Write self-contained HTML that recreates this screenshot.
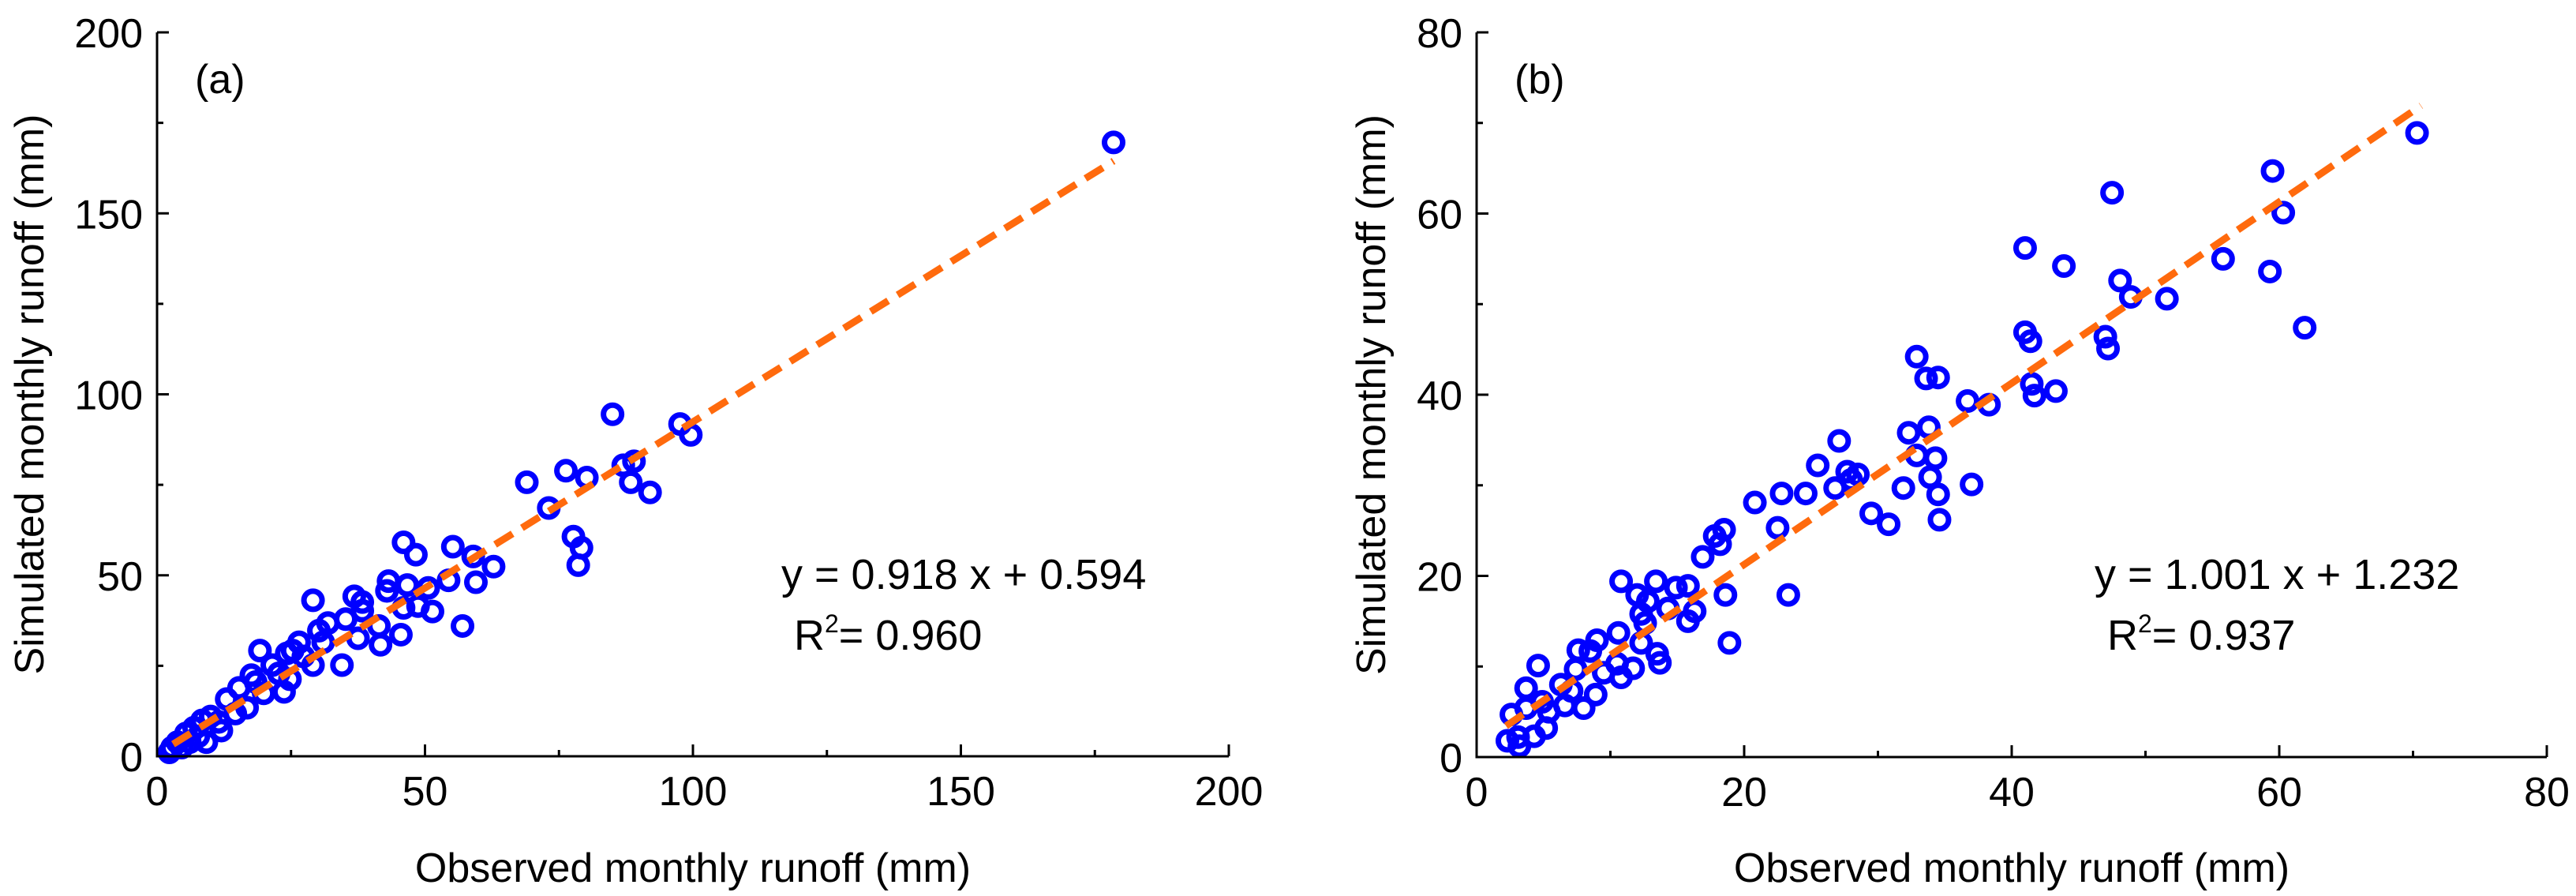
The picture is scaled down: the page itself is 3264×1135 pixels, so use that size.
<!DOCTYPE html>
<html><head><meta charset="utf-8"><style>
html,body{margin:0;padding:0;background:#fff;}
svg{display:block;font-family:"Liberation Sans",Arial,sans-serif;}
</style></head><body>
<svg id="chart" width="3264" height="1135" viewBox="0 0 3264 1135" xmlns="http://www.w3.org/2000/svg">
<rect width="3264" height="1135" fill="#fff"/>
<g id="panelA"></g>
<g id="panelB"></g>
</svg>
<script>
// Panel (a) data
const obsA = [178.5,85,97.6,99.6,69,76.3,80.2,87,89,88.4,92,73.1,77.7,79.2,78.6,46,48.3,55.2,59,62.8,54.4,59.5,50.6,43.2,46.7,42.9,51.4,48.7,46,57,45.5,41.4,41.7,36.8,38.3,38.3,35.2,37.5,29.1,31.9,30.2,31,34.5,26.5,25.3,24.2,29.1,27.3,19.2,17.6,15.3,13,23.7,24.8,22.7,19.9,16.8,14.6,11.5,10,8.4,6.9,5.4,3.8,2.8,4.6,7.7,12,9.2,6.1,2.3,21.5,18.4];
const simA = [169.6,94.5,91.8,88.8,75.7,78.9,77,80.4,81.5,75.7,72.9,68.6,60.7,57.6,52.8,59.1,55.7,57.9,55.2,52.4,48.6,48.1,46.5,48.4,47.3,45.7,40,41.5,41,36,33.6,36,30.8,44.2,42.6,40.2,37.9,32.6,43.1,36.8,34.7,31.5,25.2,31.5,29.2,28.4,25.2,27.6,29.2,22.4,18.9,15.8,17.8,21.3,22.9,17.4,13.4,11.8,9.5,11,9.9,7.9,6.3,3.9,2.4,2.4,5.5,7.1,3.9,3.9,1.1,25.2,20.5];
const fitA = [0.918, 0.594];
const fitRangeA = [3, 178.5];
const xTicksA = [0,50,100,150,200];
const yTicksA = [0,50,100,150,200];
// Panel (b) data
const obsB = [70.3,59.5,47.5,60.3,41,43.9,55.8,59.3,48.1,48.9,51.6,61.9,41,41.4,47,47.2,32.9,33.6,34.5,41.5,41.7,43.3,36.7,38.3,32.3,33.8,27.1,32.9,34.3,33.9,37,34.5,34.6,25.5,27.7,28.5,28,26.8,24.6,22.8,20.8,31.9,29.5,30.8,22.5,17.8,18.5,18.2,16.9,23.3,18.6,18.9,10.8,13.4,14.9,15.8,12,12.8,14.3,16.3,15.8,12.3,12.6,12.3,13.5,13.7,10.6,9,8.5,7.6,10.5,10.8,11.7,9.5,7.4,4.6,3.7,8.9,6.3,7.1,6.6,8,5.4,4.9,5.2,3.7,2.6,4.3,3.1,2.3,3.2];
const simB = [68.9,64.7,62.3,60.1,56.2,54.2,55,53.6,52.6,50.8,50.6,47.4,46.9,45.9,46.4,45.1,44.2,41.8,41.9,41.2,39.9,40.4,39.3,38.9,35.8,36.4,34.9,33.3,33,30.9,30.1,29,26.2,32.2,31.5,31.2,30.6,29.7,29.1,29.1,28.1,29.7,26.9,25.7,25.3,24.4,25.1,23.5,22.1,17.9,17.9,12.6,19.4,19.4,18.7,18.9,17.9,17.2,16.4,16.1,15,15.8,14.8,12.6,11.4,10.4,13.7,12.9,11.7,11.8,10.3,8.8,9.8,9.3,9.7,10.1,7.6,6.9,8,7.3,5.7,5.4,5,6.1,3.2,5.4,4.7,2.3,2.2,1.8,1.2];
const fitB = [1.001, 1.232];
const fitRangeB = [2.2, 70.6];
const xTicksB = [0,20,40,60,80];
const yTicksB = [0,20,40,60,80];

const NS = "http://www.w3.org/2000/svg";
function mk(tag, attrs, parent){
  const e = document.createElementNS(NS, tag);
  for (const k in attrs) e.setAttribute(k, attrs[k]);
  parent.appendChild(e);
  return e;
}
function drawPanel(g, cfg){
  const sx = v => cfg.x0 + (v - cfg.min) / (cfg.max - cfg.min) * (cfg.x1 - cfg.x0);
  const sy = v => cfg.y0 - (v - cfg.min) / (cfg.max - cfg.min) * (cfg.y0 - cfg.y1);
  // regression line
  const line = mk('line', {x1: sx(cfg.range[0]), y1: sy(cfg.fit[0]*cfg.range[0]+cfg.fit[1]), x2: sx(cfg.range[1]), y2: sy(cfg.fit[0]*cfg.range[1]+cfg.fit[1]), stroke:'#ff6a0d', 'stroke-width':9, 'stroke-dasharray':'26 14'}, g);
  
  
  // points
  for (let i = 0; i < cfg.xs.length; i++){
    const c = mk('circle', {cx: sx(cfg.xs[i]), cy: sy(cfg.ys[i]), r: 11.5, fill:'none', stroke:'#0000ff', 'stroke-width':7}, g);
    
    
  }
  // redraw line on top (as in reference dashed line visible over points)
  g.appendChild(line);
  // axes
  const ax = mk('path', {d:`M${cfg.x0},${cfg.y1} L${cfg.x0},${cfg.y0} L${cfg.x1},${cfg.y0}`, fill:'none', stroke:'#000', 'stroke-width':3}, g);
  
  
  const step = cfg.xt[1] - cfg.xt[0];
  for (let i = 0; i < cfg.xt.length; i++){
    const v = cfg.xt[i];
    const t = mk('line', {x1:sx(v), y1:cfg.y0, x2:sx(v), y2:cfg.y0-15, stroke:'#000','stroke-width':3}, g);
    
    
    if (i < cfg.xt.length-1){
      const m = mk('line', {x1:sx(v+step/2), y1:cfg.y0, x2:sx(v+step/2), y2:cfg.y0-8, stroke:'#000','stroke-width':3}, g);
      
      
    }
    const lb = mk('text', {x:sx(v), y:cfg.y0+62, 'font-size':52, 'text-anchor':'middle', fill:'#000'}, g);
    lb.textContent = v;
    
    
  }
  const ystep = cfg.yt[1] - cfg.yt[0];
  for (let i = 0; i < cfg.yt.length; i++){
    const v = cfg.yt[i];
    const t = mk('line', {x1:cfg.x0, y1:sy(v), x2:cfg.x0+15, y2:sy(v), stroke:'#000','stroke-width':3}, g);
    
    
    if (i < cfg.yt.length-1){
      const m = mk('line', {x1:cfg.x0, y1:sy(v+ystep/2), x2:cfg.x0+8, y2:sy(v+ystep/2), stroke:'#000','stroke-width':3}, g);
      
      
    }
    const lb = mk('text', {x:cfg.x0-18, y:sy(v)+19, 'font-size':52, 'text-anchor':'end', fill:'#000'}, g);
    lb.textContent = v;
    
    
  }
  const xt = mk('text', {x:(cfg.x0+cfg.x1)/2, y:1117, 'font-size':52, 'text-anchor':'middle', fill:'#000'}, g);
  xt.textContent = 'Observed monthly runoff (mm)';
  
  
  const yt = mk('text', {x:0, y:0, 'font-size':52, 'text-anchor':'middle', fill:'#000', transform:`translate(${cfg.ytx},${(cfg.y0+cfg.y1)/2}) rotate(-90)`}, g);
  yt.textContent = 'Simulated monthly runoff (mm)';
  
  
  const pl = mk('text', {x:cfg.x0+48, y:118, 'font-size':52, fill:'#000'}, g);
  pl.textContent = cfg.label;
  
  
  const eq = mk('text', {x:cfg.eqx, y:746, 'font-size':54, fill:'#000'}, g);
  eq.textContent = cfg.eq;
  
  
  const r2 = mk('text', {x:cfg.eqx+16, y:823, 'font-size':54, fill:'#000'}, g);
  r2.innerHTML = 'R<tspan dy="-22" font-size="32">2</tspan><tspan dy="22">= ' + cfg.r2 + '</tspan>';
  
  
}
drawPanel(document.getElementById('panelA'), {x0:199,x1:1557,y0:958,y1:41,min:0,max:200,xs:obsA,ys:simA,fit:fitA,range:fitRangeA,xt:xTicksA,yt:yTicksA,ytx:55,label:'(a)',eqx:990,eq:'y = 0.918 x + 0.594',r2:'0.960'});
drawPanel(document.getElementById('panelB'), {x0:1871,x1:3227,y0:959,y1:41,min:0,max:80,xs:obsB,ys:simB,fit:fitB,range:fitRangeB,xt:xTicksB,yt:yTicksB,ytx:1755,label:'(b)',eqx:2654,eq:'y = 1.001 x + 1.232',r2:'0.937'});
</script>
</body></html>
